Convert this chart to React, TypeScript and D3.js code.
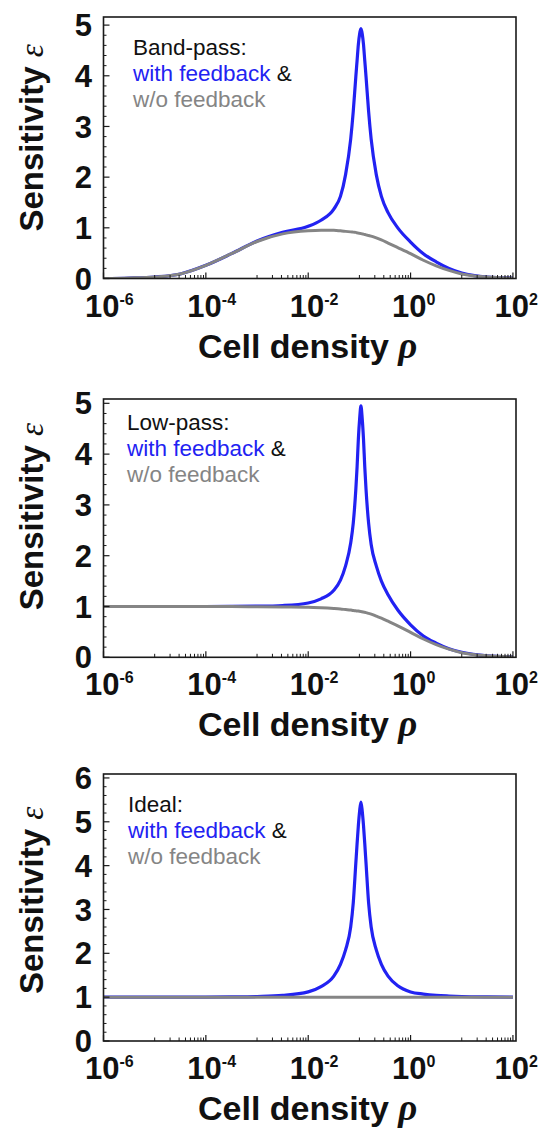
import React from 'react'
import * as d3 from 'd3'

// log10 of cell density, shared grid for the read-off curves
const logRho = [-6, -5.5, -5, -4.5, -4, -3.5, -3, -2.5, -2, -1.75, -1.5, -1.37, -1.27, -1.17, -1.12, -1.07, -1.045, -1.02, -0.995, -0.97, -0.945, -0.92, -0.895, -0.87, -0.82, -0.77, -0.67, -0.57, -0.44, -0.25, 0, 0.25, 0.5, 0.75, 1, 1.5, 2]

const bandPassWith = [0, 0.01, 0.03, 0.09, 0.26, 0.49, 0.74, 0.91, 1.03, 1.15, 1.37, 1.62, 2.05, 2.75, 3.3, 3.98, 4.3, 4.62, 4.83, 4.93, 4.83, 4.62, 4.3, 3.98, 3.3, 2.75, 2.05, 1.62, 1.3, 1.0, 0.72, 0.49, 0.33, 0.2, 0.11, 0.03, 0.01]
const bandPassWithout = [0, 0.01, 0.03, 0.09, 0.26, 0.49, 0.73, 0.88, 0.94, 0.95, 0.95, 0.94, 0.93, 0.92, 0.915, 0.91, 0.9, 0.895, 0.89, 0.885, 0.88, 0.875, 0.868, 0.86, 0.85, 0.835, 0.8, 0.76, 0.7, 0.61, 0.49, 0.36, 0.25, 0.16, 0.09, 0.03, 0.01]

const lowPassWith = [1, 1, 1, 1, 1, 1.002, 1.006, 1.02, 1.07, 1.15, 1.32, 1.52, 1.8, 2.25, 2.64, 3.3, 3.75, 4.3, 4.7, 4.95, 4.7, 4.3, 3.75, 3.3, 2.64, 2.22, 1.8, 1.5, 1.23, 0.93, 0.64, 0.42, 0.28, 0.17, 0.1, 0.03, 0.01]
const lowPassWithout = [1, 1, 1, 1, 1, 1, 0.995, 0.99, 0.985, 0.975, 0.96, 0.95, 0.94, 0.93, 0.92, 0.915, 0.912, 0.91, 0.905, 0.9, 0.895, 0.89, 0.885, 0.88, 0.865, 0.85, 0.81, 0.77, 0.71, 0.62, 0.49, 0.36, 0.25, 0.16, 0.09, 0.03, 0.01]

const idealWith = [1, 1, 1, 1, 1, 1.005, 1.015, 1.04, 1.12, 1.24, 1.48, 1.75, 2.08, 2.6, 3.15, 4.05, 4.5, 4.92, 5.25, 5.45, 5.25, 4.92, 4.5, 4.05, 3.15, 2.6, 2.08, 1.75, 1.48, 1.26, 1.12, 1.07, 1.04, 1.025, 1.015, 1.005, 1.0]
const idealWithout = [1, 1, 1, 1, 1, 1, 1, 1, 1, 1, 1, 1, 1, 1, 1, 1, 1, 1, 1, 1, 1, 1, 1, 1, 1, 1, 1, 1, 1, 1, 1, 1, 1, 1, 1, 1, 1]

const decadeExps = [-6, -4, -2, 0, 2]
const titles = ['Band-pass:', 'Low-pass:', 'Ideal:']

const BLUE = '#2222f2'
const GRAY = '#858585'
const SANS = 'Liberation Sans, Arial, sans-serif'
const SERIF = 'Liberation Serif, Times New Roman, serif'

const left = 103.5
const right = 516

const panels = [
  { title: titles[0], top: 17, bottom: 278.5, yMax: 5.16, yTop: 5, withF: bandPassWith, withoutF: bandPassWithout, lx: 133, ly: 55 },
  { title: titles[1], top: 399, bottom: 657.3, yMax: 5.085, yTop: 5, withF: lowPassWith, withoutF: lowPassWithout, lx: 127, ly: 430 },
  { title: titles[2], top: 774, bottom: 1041, yMax: 6.09, yTop: 6, withF: idealWith, withoutF: idealWithout, lx: 128, ly: 812 },
]

function Panel({ p }: { p: any }) {
  const x = d3.scaleLog().domain([1e-6, Math.pow(10, 2.06)]).range([left, right])
  const y = d3.scaleLinear().domain([0, p.yMax]).range([p.bottom, p.top])

  const line = d3.line<[number, number]>()
    .x(d => x(Math.pow(10, d[0])))
    .y(d => y(d[1]))
    .curve(d3.curveMonotoneX)

  const blue = line(logRho.map((l, i) => [l, p.withF[i]] as [number, number]))
  const gray = line(logRho.map((l, i) => [l, p.withoutF[i]] as [number, number]))

  const majorY = d3.range(0, p.yTop + 1)
  const minorY = d3.range(0, p.yTop * 5 + 1).map(i => i / 5).filter(v => Math.abs(v - Math.round(v)) > 1e-6)

  // minor ticks fill the decade just below each labelled decade
  const minorX: number[] = []
  decadeExps.forEach(e => {
    for (let j = 1; j <= 9; j++) {
      const v = j * Math.pow(10, e - 1)
      if (v >= 1e-6) minorX.push(v)
    }
  })

  return (
    <g>
      <defs>
        <clipPath id={`clip-${p.top}`}>
          <rect x={left} y={p.top} width={right - left} height={p.bottom - p.top} />
        </clipPath>
      </defs>
      <g clipPath={`url(#clip-${p.top})`}>
        <path d={blue || ''} fill="none" stroke={BLUE} strokeWidth={3.2} strokeLinejoin="round" />
        <path d={gray || ''} fill="none" stroke={GRAY} strokeWidth={3} strokeLinejoin="round" />
      </g>
      <rect x={left} y={p.top} width={right - left} height={p.bottom - p.top} fill="none" stroke="#1a1a1a" strokeWidth={1.6} />

      {/* y ticks */}
      {majorY.map(v => (
        <line key={'ym' + v} x1={left} x2={left + 6} y1={y(v)} y2={y(v)} stroke="#1a1a1a" strokeWidth={1.2} />
      ))}
      {minorY.map(v => (
        <line key={'yn' + v} x1={left} x2={left + 3} y1={y(v)} y2={y(v)} stroke="#1a1a1a" strokeWidth={1} />
      ))}
      {majorY.map(v => (
        <text key={'yl' + v} x={92} y={y(v)} dy="0.36em" textAnchor="end" fontFamily={SANS} fontWeight="bold" fontSize={31} fill="#111">{v}</text>
      ))}

      {/* x ticks */}
      {decadeExps.map(e => (
        <line key={'xm' + e} x1={x(Math.pow(10, e))} x2={x(Math.pow(10, e))} y1={p.bottom} y2={p.bottom - 6} stroke="#1a1a1a" strokeWidth={1.2} />
      ))}
      {minorX.map((v, i) => (
        <line key={'xn' + i} x1={x(v)} x2={x(v)} y1={p.bottom} y2={p.bottom - 3.5} stroke="#1a1a1a" strokeWidth={1} />
      ))}
      {decadeExps.map(e => (
        <text key={'xl' + e} x={x(Math.pow(10, e)) - 18.5} y={p.bottom + 38} fontFamily={SANS} fontWeight="bold" fontSize={31} fill="#111">
          10<tspan dy={-12} fontSize={16}>{e}</tspan>
        </text>
      ))}

      {/* axis titles */}
      <text x={198} y={p.bottom + 79} fontFamily={SANS} fontWeight="bold" fontSize={34} fill="#111">
        Cell density <tspan fontFamily={SERIF} fontStyle="italic" fontSize={37}>ρ</tspan>
      </text>
      <text transform={`translate(43, ${p.bottom - 47}) rotate(-90)`} fontFamily={SANS} fontWeight="bold" fontSize={33} fill="#111">
        Sensitivity <tspan fontFamily={SERIF} fontStyle="italic" fontWeight="normal" fontSize={33}>ε</tspan>
      </text>

      {/* legend */}
      <text x={p.lx} y={p.ly} fontFamily={SANS} fontSize={22.5} fill="#111">{p.title}</text>
      <text x={p.lx} y={p.ly + 26} fontFamily={SANS} fontSize={22.5} fill="#111">
        <tspan fill={BLUE}>with feedback</tspan> &amp;
      </text>
      <text x={p.lx} y={p.ly + 52} fontFamily={SANS} fontSize={22.5} fill={GRAY}>w/o feedback</text>
    </g>
  )
}

export default function App() {
  return (
    <svg width={539} height={1130} style={{ position: 'absolute', left: 0, top: 0, background: '#fff' }}>
      <rect x={0} y={0} width={539} height={1130} fill="#fff" />
      {panels.map(p => <Panel key={p.title} p={p} />)}
    </svg>
  )
}
